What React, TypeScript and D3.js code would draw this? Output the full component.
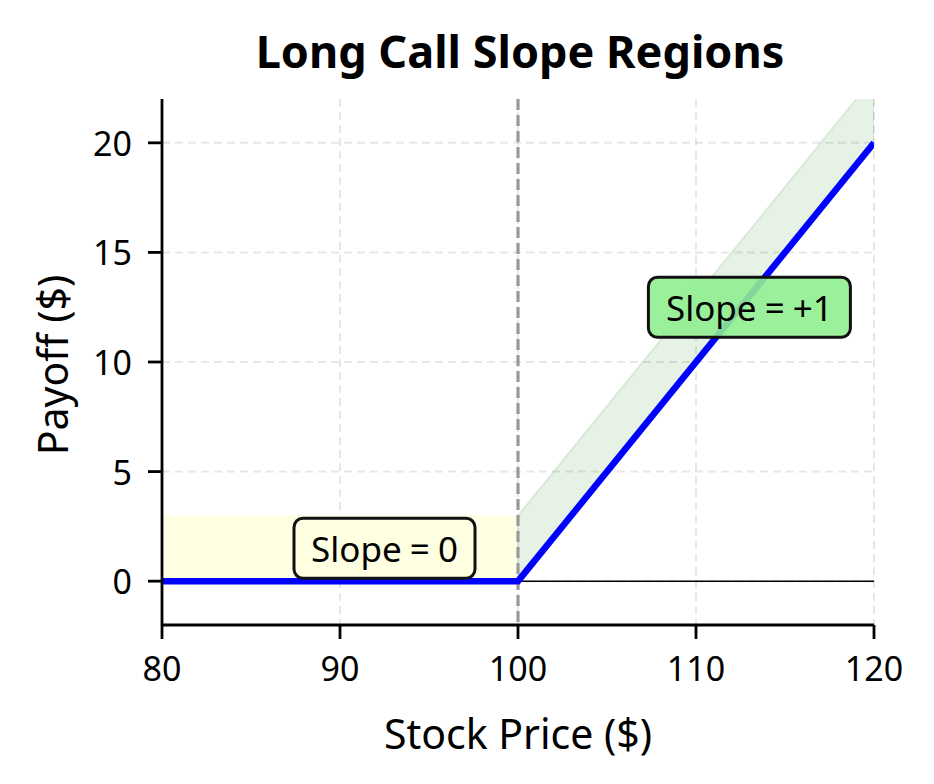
import React from "react";
import * as d3 from "d3";

const W = 934, H = 784;
const strike = 100;
const prices = [80, 100, 120];
const payoffs = [0, 0, 20];
const xTicks = [80, 90, 100, 110, 120];
const yTicks = [0, 5, 10, 15, 20];
const xDomain = [80, 120];
const yDomain = [-2, 22];
const bandHeight = 3;
const title = "Long Call Slope Regions";
const xLabel = "Stock Price ($)";
const yLabel = "Payoff ($)";
const annotations = [
  { x: 92.5, y: 1.5, text: "Slope = 0", fill: "#ffffe0", w: 181 },
  { x: 113, y: 12.5, text: "Slope = +1", fill: "#90ee90", w: 202 },
];

const FONT = "'Noto Sans', sans-serif";

export default function App() {
  const m = { l: 162, r: 874, t: 99, b: 625 };
  const x = d3.scaleLinear().domain(xDomain).range([m.l, m.r]);
  const y = d3.scaleLinear().domain(yDomain).range([m.b, m.t]);
  const data = prices.map((p, i) => ({ p, v: payoffs[i] }));
  const line = d3.line<any>().x((d) => x(d.p)).y((d) => y(d.v));
  const right = data.filter((d) => d.p >= strike);
  const band = d3
    .area<any>()
    .x((d) => x(d.p))
    .y0((d) => y(d.v))
    .y1((d) => y(d.v + bandHeight));
  return (
    <svg width={W} height={H} style={{ display: "block", margin: -8 }} fontFamily={FONT}>
      <rect width={W} height={H} fill="white" />
      <defs>
        <clipPath id="plot">
          <rect x={m.l} y={m.t} width={m.r - m.l} height={m.b - m.t} />
        </clipPath>
      </defs>
      {/* grid */}
      {xTicks.map((t) => (
        <line key={"gx" + t} x1={x(t)} x2={x(t)} y1={m.t} y2={m.b} stroke="#b0b0b0" strokeOpacity={0.3} strokeWidth={2} strokeDasharray="8,5" />
      ))}
      {yTicks.map((t) => (
        <line key={"gy" + t} x1={m.l} x2={m.r} y1={y(t)} y2={y(t)} stroke="#b0b0b0" strokeOpacity={0.3} strokeWidth={2} strokeDasharray="8,5" />
      ))}
      <g clipPath="url(#plot)">
        <rect x={x(xDomain[0])} y={y(bandHeight)} width={x(strike) - x(xDomain[0])} height={y(0) - y(bandHeight)} fill="#ffffe0" fillOpacity={0.9} />
        <path d={band(right) || ""} fill="green" fillOpacity={0.1} stroke="green" strokeOpacity={0.1} strokeWidth={2} />
        <line x1={m.l} x2={m.r} y1={y(0)} y2={y(0)} stroke="black" strokeWidth={1.5} />
        <line x1={x(strike)} x2={x(strike)} y1={m.t} y2={m.b} stroke="#999" strokeWidth={3.2} strokeDasharray="11,5" />
        <path d={line(data) || ""} fill="none" stroke="blue" strokeWidth={6.5} />
      </g>
      {annotations.map((a) => {
        const cx = x(a.x), cy = y(a.y);
        return (
          <g key={a.text}>
            <rect x={cx - a.w / 2} y={cy - 30} width={a.w} height={60} rx={9} fill={a.fill} fillOpacity={0.9} stroke="#111" strokeWidth={3} />
            <text x={cx} y={cy} textAnchor="middle" dominantBaseline="central" fontSize={35} wordSpacing={-1}>{a.text}</text>
          </g>
        );
      })}
      {/* axes */}
      <line x1={m.l} x2={m.l} y1={m.t} y2={m.b} stroke="black" strokeWidth={2.8} />
      <line x1={m.l} x2={m.r} y1={m.b} y2={m.b} stroke="black" strokeWidth={2.8} />
      {xTicks.map((t) => (
        <g key={"xt" + t}>
          <line x1={x(t)} x2={x(t)} y1={m.b} y2={m.b + 14} stroke="black" strokeWidth={2.8} />
          <text x={x(t)} y={m.b + 43} textAnchor="middle" dominantBaseline="central" fontSize={34}>{t}</text>
        </g>
      ))}
      {yTicks.map((t) => (
        <g key={"yt" + t}>
          <line x1={m.l - 14} x2={m.l} y1={y(t)} y2={y(t)} stroke="black" strokeWidth={2.8} />
          <text x={m.l - 30} y={y(t)} textAnchor="end" dominantBaseline="central" fontSize={34}>{t}</text>
        </g>
      ))}
      <text x={(m.l + m.r) / 2} y={733} textAnchor="middle" dominantBaseline="central" fontSize={41}>{xLabel}</text>
      <text transform={`translate(52,${(m.t + m.b) / 2 + 3}) rotate(-90)`} textAnchor="middle" dominantBaseline="central" fontSize={41}>{yLabel}</text>
      <text x={(m.l + m.r) / 2 + 2} y={50} textAnchor="middle" dominantBaseline="central" fontSize={45} fontWeight="bold">{title}</text>
    </svg>
  );
}
